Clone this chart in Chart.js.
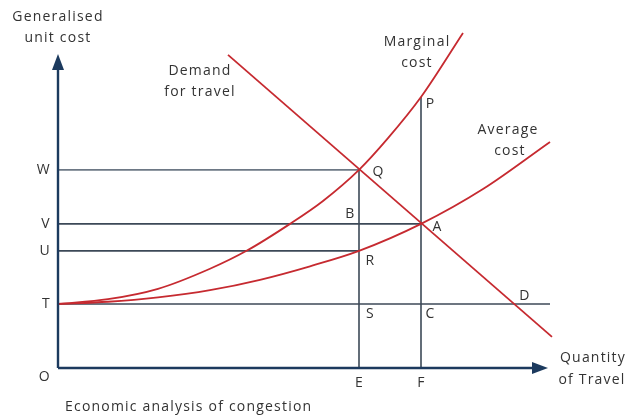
<!DOCTYPE html>
<html>
<head>
<meta charset="utf-8">
<script src="https://cdn.jsdelivr.net/npm/chart.js@4.4.1/dist/chart.umd.min.js"></script>
<style>
html, body { margin: 0; padding: 0; background: #fff; }
#wrap { width: 628px; height: 416px; }
</style>
</head>
<body>
<div id="wrap"><canvas id="chart" width="628" height="416"></canvas></div>
<script>
// cost levels on the vertical axis
const levelNames = ['T', 'U', 'V', 'W'];
const levelValues = [20.4, 37.3, 45.9, 63.1];
// quantities on the horizontal axis
const quantityNames = ['E', 'F'];
const quantityValues = [60.2, 72.6];
const costAtP = 86.3;      // marginal cost above F
const quantityAtD = 91.5;  // demand meets T
const tLineEnd = 98.4;

// curves
const demandX = [34, 98.8];
const demandY = [99.7, 9.9];
const marginalX = [0, 10, 20, 30.4, 37.8, 46.4, 53, 60.2, 66, 72.6, 81];
const marginalY = [20.4, 21.9, 25.2, 31.6, 37.4, 45.9, 53.2, 63.1, 73.2, 86.3, 106.7];
const averageX = [0, 10, 20, 30.4, 40.4, 50.4, 60.2, 72.6, 85, 98.4];
const averageY = [20.4, 21.1, 22.5, 24.8, 28.1, 32.4, 37.3, 45.9, 57.0, 72];

const RED = '#c62a30';
const INK = '#3c4957';
const AXIS = '#1c3a5e';
const TEXT = '#333';

const T = levelValues[0], U = levelValues[1], V = levelValues[2], W = levelValues[3];
const E = quantityValues[0], F = quantityValues[1];

function pts(xs, ys) {
    return xs.map((x, i) => ({ x: x, y: ys[i] }));
}
function seg(x1, y1, x2, y2, color) {
    return {
        data: [{ x: x1, y: y1 }, { x: x2, y: y2 }],
        borderColor: color || INK, borderWidth: 1.6, order: 5
    };
}

const curves = [
    { data: pts(demandX, demandY), borderColor: RED, borderWidth: 1.8, order: 1 },
    { data: pts(marginalX, marginalY), borderColor: RED, borderWidth: 1.8, cubicInterpolationMode: 'monotone', order: 1 },
    { data: pts(averageX, averageY), borderColor: RED, borderWidth: 1.8, cubicInterpolationMode: 'monotone', order: 1 }
];
const guides = [
    seg(0, W, E, W, '#6d7885'),
    seg(0, V, F, V),
    seg(0, U, E, U),
    seg(0, T, tLineEnd, T),
    seg(E, 0, E, W),
    seg(F, 0, F, costAtP)
];

// letters at points: [text, x, y, dx, dy]
const pointLabels = [
    ['Q', E, W, 19, 2], ['B', E, V, -9, -10], ['A', F, V, 16, 3],
    ['R', E, U, 11, 10], ['S', E, T, 11, 10], ['C', F, T, 9, 10],
    ['D', quantityAtD, T, 9, -8], ['P', F, costAtP, 9, 7]
];

const textBlocks = [
    ['Generalised', 58, 17, 'center'], ['unit cost', 58, 38, 'center'],
    ['Demand', 200, 71, 'center'], ['for travel', 200, 92, 'center'],
    ['Marginal', 417, 42, 'center'], ['cost', 417, 63, 'center'],
    ['Average', 508, 130, 'center'], ['cost', 510, 151, 'center'],
    ['Quantity', 593, 358, 'center'], ['of Travel', 592, 380, 'center'],
    ['Economic analysis of congestion', 65, 407, 'left']
];

const diagramPlugin = {
    id: 'diagram',
    afterDatasetsDraw(chart) {
        const ctx = chart.ctx;
        const xs = chart.scales.x, ys = chart.scales.y;
        const x0 = xs.getPixelForValue(0), y0 = ys.getPixelForValue(0);
        const yTop = ys.getPixelForValue(100), xEnd = xs.getPixelForValue(98);
        ctx.save();
        // axes with arrowheads
        ctx.strokeStyle = AXIS;
        ctx.fillStyle = AXIS;
        ctx.lineWidth = 2.4;
        ctx.beginPath();
        ctx.moveTo(x0, y0);
        ctx.lineTo(x0, yTop + 10);
        ctx.moveTo(x0, y0);
        ctx.lineTo(xEnd - 10, y0);
        ctx.stroke();
        ctx.beginPath();
        ctx.moveTo(x0, yTop);
        ctx.lineTo(x0 - 6, yTop + 16);
        ctx.lineTo(x0 + 6, yTop + 16);
        ctx.closePath();
        ctx.fill();
        ctx.beginPath();
        ctx.moveTo(xEnd, y0);
        ctx.lineTo(xEnd - 16, y0 - 6);
        ctx.lineTo(xEnd - 16, y0 + 6);
        ctx.closePath();
        ctx.fill();

        ctx.fillStyle = TEXT;
        ctx.font = '14px "Open Sans", sans-serif';
        ctx.letterSpacing = '0.3px';
        ctx.textBaseline = 'middle';
        // level letters on the y axis
        ctx.textAlign = 'right';
        levelNames.forEach((n, i) => ctx.fillText(n, x0 - 8, ys.getPixelForValue(levelValues[i])));
        ctx.fillText('O', x0 - 8, y0 + 9);
        // quantity letters under the x axis
        ctx.textAlign = 'center';
        quantityNames.forEach((n, i) => ctx.fillText(n, xs.getPixelForValue(quantityValues[i]), y0 + 15));
        pointLabels.forEach(p => {
            ctx.fillText(p[0], xs.getPixelForValue(p[1]) + p[3], ys.getPixelForValue(p[2]) + p[4]);
        });
        ctx.letterSpacing = '1.2px';
        textBlocks.forEach(t => {
            ctx.textAlign = t[3];
            ctx.fillText(t[0], t[1], t[2]);
        });
        ctx.restore();
    }
};

new Chart(document.getElementById('chart'), {
    type: 'scatter',
    data: { datasets: curves.concat(guides) },
    options: {
        responsive: false,
        animation: false,
        showLine: true,
        layout: { padding: { left: 58, right: 70, top: 54, bottom: 48 } },
        elements: { point: { radius: 0, hoverRadius: 0 } },
        datasets: { scatter: { clip: false, showLine: true } },
        scales: {
            x: { type: 'linear', min: 0, max: 100, display: false },
            y: { type: 'linear', min: 0, max: 100, display: false }
        },
        plugins: { legend: { display: false }, tooltip: { enabled: false } }
    },
    plugins: [diagramPlugin]
});
</script>
</body>
</html>
